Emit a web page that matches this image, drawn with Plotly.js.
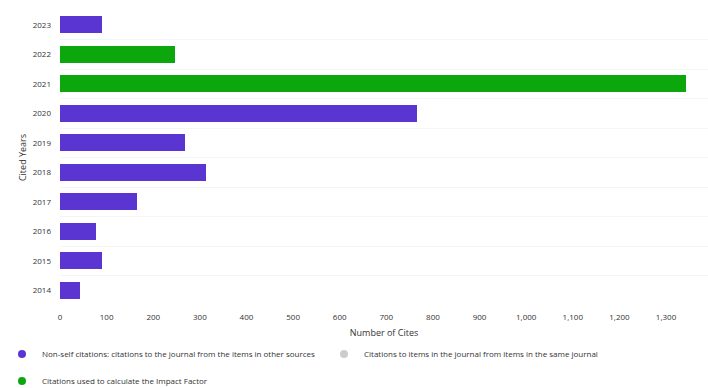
<!DOCTYPE html>
<html>
<head>
<meta charset="utf-8">
<script src="https://cdn.plot.ly/plotly-3.0.1.min.js"></script>
<style>html,body{margin:0;padding:0;background:#fff;}#chart{width:708px;height:388px;}</style>
</head>
<body>
<div id="chart"></div>
<script>
// Cited years (category axis)
const years = ['2014', '2015', '2016', '2017', '2018', '2019', '2020', '2021', '2022', '2023'];
// Non-self citations (purple)
const nonSelfCites = [43, 90, 77, 165, 313, 268, 766, null, null, 90];
// Self citations (gray) – not visible in the reference
const selfCites = [0, 0, 0, 0, 0, 0, 0, 0, 0, 0];
// Citations used to calculate the Impact Factor (green)
const ifCites = [null, null, null, null, null, null, null, 1343, 247, null];

const legendNames = [
  'Non-self citations: citations to the journal from the items in other sources',
  'Citations to items in the journal from items in the same journal',
  'Citations used to calculate the Impact Factor'
];

const purple = '#5a35d2';
const gray = '#cccccc';
const green = '#0ca70c';

const font = "'Open Sans', 'Liberation Sans', sans-serif";

const traces = [
  {type: 'bar', orientation: 'h', y: years, x: nonSelfCites, marker: {color: purple}, showlegend: false, name: legendNames[0]},
  {type: 'bar', orientation: 'h', y: years, x: selfCites, marker: {color: gray}, showlegend: false, name: legendNames[1]},
  {type: 'bar', orientation: 'h', y: years, x: ifCites, marker: {color: green}, showlegend: false, name: legendNames[2]},
  // legend entries (circle markers)
  {type: 'scatter', mode: 'markers', x: [null], y: [null], name: legendNames[0], marker: {color: purple, size: 8}, legend: 'legend'},
  {type: 'scatter', mode: 'markers', x: [null], y: [null], name: legendNames[1], marker: {color: gray, size: 8}, legend: 'legend2'},
  {type: 'scatter', mode: 'markers', x: [null], y: [null], name: legendNames[2], marker: {color: green, size: 8}, legend: 'legend3'}
];

const legendBase = {
  xref: 'container', yref: 'container', xanchor: 'left', yanchor: 'middle',
  orientation: 'h', font: {family: font, size: 8, color: '#333'},
  bgcolor: 'rgba(0,0,0,0)', itemclick: false
};

const layout = {
  width: 708, height: 388,
  margin: {l: 60, r: 0, t: 10, b: 83},
  paper_bgcolor: '#ffffff', plot_bgcolor: '#ffffff',
  font: {family: font, size: 8, color: '#333'},
  barmode: 'stack',
  bargap: 0.42,
  xaxis: {
    range: [0, 1390],
    tickvals: [0, 100, 200, 300, 400, 500, 600, 700, 800, 900, 1000, 1100, 1200, 1300],
    tickformat: ',d',
    showgrid: false, zeroline: false, showline: false,
    ticks: '', ticklabelstandoff: 6,
    tickfont: {family: font, size: 8, color: '#333'},
    title: {text: 'Number of Cites', font: {family: font, size: 9, color: '#333'}, standoff: 8}
  },
  yaxis: {
    type: 'category',
    range: [-0.5, 9.5],
    showgrid: true, gridcolor: '#f5f5f5', gridwidth: 1,
    tickson: 'boundaries',
    zeroline: false, showline: false,
    ticks: '', ticklabelstandoff: 8,
    tickfont: {family: font, size: 8, color: '#333'},
    title: {text: 'Cited Years', font: {family: font, size: 9, color: '#333'}, standoff: 4}
  },
  legend: Object.assign({}, legendBase, {x: 2 / 708, y: 1 - 354 / 388}),
  legend2: Object.assign({}, legendBase, {x: 324 / 708, y: 1 - 354 / 388}),
  legend3: Object.assign({}, legendBase, {x: 2 / 708, y: 1 - 381 / 388}),
  showlegend: true
};

Plotly.newPlot('chart', traces, layout, {displayModeBar: false, staticPlot: true});
</script>
</body>
</html>
